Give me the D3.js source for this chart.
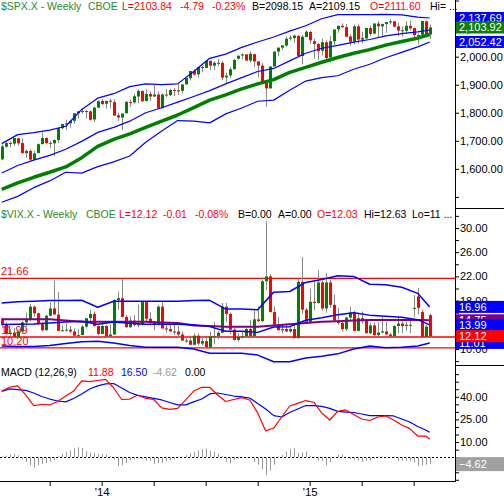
<!DOCTYPE html>
<html>
<head>
<meta charset="utf-8">
<script src="https://cdn.jsdelivr.net/npm/d3@7"></script>
<style>
  body { margin: 0; background: #fff; }
  svg text { font-family: "Liberation Sans", Arial, sans-serif; font-size: 11px; }
  svg text.title { font-size: 10.5px; }
</style>
</head>
<body>
<div id="chart"></div>
<script>
/* ============================================================
   Data (weekly, Jul 2013 - Jul 2015)
   ============================================================ */
const weeks = d3.timeFriday.range(new Date(2013, 6, 12), new Date(2015, 7, 1));

const spxOpen = [1634,1679,1692,1690,1709,1692,1656,1664,1633,1656,1688,1710,1692,1691,1703,1745,1760,1762,1771,1798,
  1804,1806,1805,1776,1818,1842,1832,1843,1838,1791,1783,1798,1838,1837,1858,1878,1842,1867,1858,1865,
  1816,1865,1863,1881,1880,1878,1901,1923,1949,1937,1963,1960,1985,1968,1978,1978,1926,1933,1955,1993,
  2004,2008,1986,2009,1983,1968,1906,1887,1965,2018,2032,2040,2064,2066,2074,2002,2070,2088,2055,2045,
  2021,2051,1997,2055,2097,2110,2105,2072,2053,2108,2061,2065,2102,2082,2118,2108,2116,2122,2126,2108,
  2092,2092,2110,2102,2072,2078,2126,2079];
const spxHigh = [1687,1698,1697,1710,1709,1709,1669,1670,1664,1691,1730,1712,1700,1704,1745,1760,1775,1771,1799,1806,
  1814,1811,1808,1823,1844,1849,1843,1850,1848,1800,1798,1841,1847,1868,1883,1878,1883,1876,1898,1876,
  1869,1885,1885,1889,1902,1901,1925,1950,1955,1964,1968,1986,1986,1984,1991,1984,1943,1963,1993,2006,
  2012,2008,2019,2009,1984,1977,1906,1965,2018,2034,2041,2071,2076,2079,2077,2077,2094,2093,2064,2049,
  2064,2058,2073,2097,2110,2119,2117,2080,2114,2115,2089,2103,2111,2120,2126,2118,2123,2134,2126,2121,
  2108,2126,2129,2102,2083,2127,2129,2114];
const spxLow = [1631,1675,1677,1682,1684,1655,1640,1628,1633,1656,1688,1687,1674,1646,1692,1741,1740,1747,1761,1779,
  1796,1779,1772,1767,1818,1828,1815,1815,1790,1770,1738,1798,1820,1832,1834,1839,1840,1843,1856,1815,
  1816,1856,1859,1859,1863,1868,1901,1915,1933,1925,1944,1960,1952,1952,1965,1916,1905,1923,1955,1989,
  1990,1985,1979,1964,1926,1906,1821,1886,1965,2001,2025,2034,2057,2049,2002,1972,2070,2045,1992,1988,
  2004,1989,1980,2041,2085,2103,2071,2040,2044,2046,2048,2063,2073,2080,2068,2067,2085,2114,2103,2072,
  2072,2081,2094,2056,2044,2078,2077,2063];
const spxClose = [1680,1692,1692,1710,1691,1656,1664,1633,1655,1688,1710,1692,1691,1703,1745,1760,1762,1771,1798,1805,
  1806,1805,1775,1818,1841,1831,1842,1839,1790,1783,1797,1839,1836,1859,1878,1841,1867,1858,1865,1816,
  1865,1863,1881,1878,1878,1901,1924,1949,1936,1963,1961,1985,1968,1978,1978,1925,1932,1955,1988,2003,
  2008,1986,2010,1983,1968,1906,1887,1965,2018,2032,2040,2064,2068,2075,2002,2071,2089,2058,2045,2019,
  2052,1995,2055,2097,2110,2105,2071,2053,2108,2061,2067,2102,2081,2118,2108,2116,2123,2126,2107,2093,
  2094,2110,2101,2077,2077,2127,2080,2104];

// overlays, read every 4th week
const bandWeeks = [0,4,8,12,16,20,24,28,32,36,40,44,48,52,56,60,64,68,72,76,80,84,88,92,96,100,104,107];
const spxUpper = [1690,1722,1729,1738,1752,1812,1852,1868,1893,1903,1900,1903,1947,1994,2009,2033,2052,2070,2091,2110,2135,2150,2150,2150,2151,2149,2141,2137.69];
const spxMid   = [1585,1612,1631,1648,1670,1698,1730,1748,1770,1800,1818,1838,1858,1879,1903,1925,1947,1958,1985,2012,2030,2040,2052,2061,2074,2082,2088,2095.06];
const spxLower = [1481,1502,1533,1557,1588,1585,1608,1625,1646,1695,1735,1772,1770,1764,1796,1817,1841,1845,1880,1913,1925,1932,1955,1973,1996,2015,2035,2052.42];
const spxMa    = [1527,1550,1570,1588,1607,1640,1680,1705,1725,1748,1770,1792,1818,1845,1864,1885,1903,1918,1944,1962,1980,1997,2012,2025,2041,2054,2066,2079];

const vixOpen = [15.0,14.0,12.5,12.7,12.0,12.9,14.4,14.8,17.0,15.9,14.2,13.1,15.5,16.7,15.7,13.0,13.1,13.2,12.9,12.2,
  12.3,13.7,15.1,15.8,13.8,12.5,13.8,12.1,12.4,18.1,18.4,15.3,13.6,14.7,14.0,14.1,17.8,15.0,14.4,14.0,
  17.0,13.4,13.3,12.9,12.9,12.4,11.4,11.4,10.7,12.2,10.9,11.3,10.3,12.1,12.1,12.7,17.0,15.8,13.2,11.5,
  12.0,12.1,13.3,12.1,14.9,14.6,21.2,22.0,16.1,14.0,13.1,13.3,12.9,13.3,11.8,21.1,16.5,14.5,17.8,17.6,
  21.0,16.7,21.0,17.3,14.7,14.3,13.3,15.2,16.0,13.0,15.1,14.7,12.6,13.9,12.3,12.7,12.9,12.4,12.1,13.8,
  14.2,13.8,14.0,16.8,18.7,16.1,12.0,15.6];
const vixHigh = [15.2,14.4,13.3,13.5,13.2,14.6,16.0,17.4,17.2,16.0,14.5,15.6,17.7,21.3,19.4,13.9,14.2,13.8,13.4,13.3,
  14.0,15.1,16.5,16.2,13.9,14.5,14.0,14.0,18.2,19.5,21.5,15.6,15.4,15.6,17.3,17.9,17.9,16.1,14.6,17.3,
  17.9,14.1,14.5,14.0,13.8,12.9,12.0,12.2,12.6,12.6,12.2,11.8,12.9,14.5,13.0,17.6,17.6,16.0,13.5,12.6,
  13.0,13.6,14.8,16.3,17.0,21.8,31.1,22.4,17.0,15.3,14.0,14.3,13.6,14.3,21.5,25.2,16.8,20.0,21.1,23.0,
  21.3,22.6,21.5,19.0,16.8,14.7,15.3,17.0,16.3,16.0,16.2,15.0,14.3,14.4,14.4,15.3,14.5,12.7,13.9,15.3,
  15.0,14.5,14.6,18.9,20.1,16.5,14.0,15.9];
const vixLow = [13.8,12.3,12.2,11.9,11.8,12.5,13.7,14.6,15.3,13.9,12.9,13.1,15.4,15.6,13.0,12.9,12.9,12.6,12.2,12.2,
  12.3,13.4,14.4,13.7,12.3,12.5,12.1,11.9,12.3,16.5,15.2,13.5,13.5,13.7,13.6,13.9,14.5,13.9,13.1,13.9,
  13.4,12.7,12.9,12.3,11.9,11.4,11.0,10.7,10.6,10.6,10.6,10.3,10.3,10.8,11.6,12.6,14.5,12.4,11.4,11.2,
  11.7,11.9,11.9,12.0,14.5,14.5,19.7,16.1,13.9,13.1,12.6,12.8,12.6,11.8,11.7,15.8,14.3,14.3,16.4,17.5,
  16.3,16.0,16.8,14.6,14.0,12.9,13.0,14.6,13.0,12.9,14.2,12.6,12.5,12.2,12.0,12.6,12.3,11.8,12.0,12.6,
  12.6,13.0,12.6,15.3,15.7,11.8,11.9,12.0];
const vixClose = [14.0,12.5,12.7,12.0,12.9,14.4,14.8,17.0,15.9,14.2,13.1,15.5,16.7,15.7,13.0,13.1,13.2,12.9,12.2,12.3,
  13.7,15.1,15.8,13.8,12.5,13.8,12.1,12.4,18.1,18.4,15.3,13.6,14.7,14.0,14.1,17.8,15.0,14.4,14.0,17.0,
  13.4,13.3,12.9,12.9,12.4,11.4,11.4,10.7,12.2,10.9,11.3,10.3,12.1,12.1,12.7,17.0,15.8,13.2,11.5,12.0,
  12.1,13.3,12.1,14.9,14.6,21.2,22.0,16.1,14.0,13.1,13.3,12.9,13.3,11.8,21.1,16.5,14.5,17.8,17.6,21.0,
  16.7,21.0,17.3,14.7,14.3,13.3,15.2,16.0,13.0,15.1,14.7,12.6,13.9,12.3,12.7,12.9,12.4,12.1,13.8,14.2,
  13.8,14.0,14.0,16.8,16.8,12.0,13.7,12.1];

const vixUpper = [17.6,17.8,17.9,18.0,18.0,18.05,16.9,17.9,17.9,17.9,17.9,17.9,18.0,18.05,16.6,16.6,16.5,19.4,19.5,21.0,21.5,22.1,22.0,20.7,20.6,20.2,19.2,16.96];
const vixMid   = [14.05,14.1,14.15,14.3,14.45,14.6,14.1,14.45,14.25,14.1,14.1,14.1,14.0,13.7,12.95,12.95,12.75,13.65,13.7,14.75,15.15,15.65,16.0,15.6,15.4,15.25,14.85,13.99];
const vixLower = [10.5,10.4,10.4,10.6,10.9,11.2,11.3,11.0,10.6,10.3,10.3,10.3,10.0,9.3,9.3,9.3,9.0,7.9,7.9,8.5,8.8,9.2,10.0,10.5,10.2,10.3,10.5,11.01];
const vixMa    = [14.9,14.9,14.9,14.9,14.7,14.5,14.5,14.5,14.5,14.5,14.4,14.3,13.9,13.8,13.7,13.7,13.7,13.9,14.1,14.3,14.5,14.6,14.7,14.8,14.8,14.8,14.8,14.75];
const vixLevels = [{ value: 21.66, label: '21.66' }, { value: 11.99, label: '11.99' }, { value: 10.20, label: '10.20' }];

// MACD (12,26,9), read every 2nd week
const macdWeeks = [0,2,4,6,8,10,12,14,16,18,20,22,24,26,28,30,32,34,36,38,40,42,44,46,48,50,52,54,
  56,58,60,62,64,66,68,70,72,74,76,78,80,82,84,86,88,90,92,94,96,98,100,102,104,106,107];
const macdLine = [43.8,46.5,47.2,41.2,34.2,34.9,34.6,36.9,40.5,43.8,50.5,50.1,50.8,51.5,45.8,38.2,38.5,41.2,38.9,38.2,32.6,31.6,32.3,37.9,43.8,46.3,46.3,41.2,
  36.9,38.2,39.4,37.9,29.3,17.4,19.3,26.6,33.9,35.6,37.5,36.4,29.3,24.6,30.3,31.3,28.3,25.3,24.3,26.6,27.3,24.6,21.3,18.9,14.0,14.0,11.88];
const signalLine = [43.5,45.2,44.8,44.2,42.5,40.2,38.5,37.2,36.6,38.9,41.9,45.2,47.2,48.5,48.8,45.8,42.8,40.9,39.9,38.9,37.9,36.2,34.6,34.6,36.6,38.5,41.9,42.5,
  41.5,40.5,39.9,39.2,35.6,31.9,27.5,26.6,29.6,31.9,34.2,34.2,33.6,32.3,30.3,29.9,29.6,28.6,27.5,27.5,27.5,27.3,25.3,23.3,20.3,18.0,16.5];
const macdHist = [0.5,1.0,1.8,2.3,1.2,-1.5,-3.3,-5.5,-7.0,-5.5,-4.5,-3.8,-3.0,-2.0,0.5,2.2,3.5,4.4,5.7,6.6,
  6.2,4.0,2.9,2.9,2.2,2.2,1.8,0.7,-1.5,-6.0,-5.3,-3.8,-2.2,-1.5,-0.5,-1.5,-2.2,-2.6,-4.4,-3.8,
  -3.8,-2.6,-2.2,-1.5,-0.5,0.5,1.3,2.6,3.5,4.4,5.1,5.7,4.4,3.5,2.2,0.7,-3.1,-4.0,-1.8,-0.9,
  -0.7,-0.4,0.3,-3.0,-5.0,-8.0,-12.0,-9.0,-5.0,0.5,1.5,3.5,5.3,6.0,2.6,3.3,3.8,0.9,-0.5,-2.2,
  -2.6,-5.5,-3.3,-0.3,1.5,1.8,0.2,-1.5,-1.5,-2.2,-3.0,-2.2,-2.2,-1.0,0.4,0.5,0.2,-0.3,-0.8,-2.5,
  -2.2,-2.6,-2.6,-3.5,-6.0,-5.5,-5.0,-4.62];

// header texts
const spxTitle = [['$SPX.X - Weekly', '#2b8a2b'], ['CBOE', '#2b8a2b'], ['L=2103.84', '#ff0000'], ['-4.79', '#ff0000'],
  ['-0.23%', '#ff0000'], ['B=2098.15', '#000'], ['A=2109.15', '#000'], ['O=2111.60', '#ff0000'], ['Hi= ...', '#000']];
const vixTitle = [['$VIX.X - Weekly', '#2b8a2b'], ['CBOE', '#2b8a2b'], ['L=12.12', '#ff0000'], ['-0.01', '#ff0000'],
  ['-0.08%', '#ff0000'], ['B=0.00', '#000'], ['A=0.00', '#000'], ['O=12.03', '#ff0000'], ['Hi=12.63', '#000'], ['Lo=11 ...', '#000']];
const macdTitle = [['MACD (12,26,9)', '#000'], ['11.88', '#ff0000'], ['16.50', '#0000ff'], ['-4.62', '#999'], ['0.00', '#000']];
const spxBoxes = [{ value: 2137.69, color: '#0000ff' }, { value: 2052.42, color: '#0000ff' }, { value: 2103.92, color: '#0a7d0a' }];
const vixBoxes = [{ value: 14.75, color: '#800080' }, { value: 11.01, color: '#0000ff' }, { value: 16.96, color: '#0000ff' },
  { value: 13.99, color: '#0000ff' }, { value: 12.12, color: '#ff0000' }];
const macdBoxes = [{ value: -4.62, color: '#a0a0a0' }];
const yearLabels = { 25: "'14", 77: "'15" };

/* ============================================================
   Chart
   ============================================================ */
const plotW = 455;
const svg = d3.select('#chart').append('svg').attr('width', 504).attr('height', 500);

const x = d3.scalePoint().domain(d3.range(weeks.length)).range([1.7, 429.7]);
const ySpx = d3.scaleLinear().domain([1460.5, 2201.9]).range([208, 0]);
const yVix = d3.scaleLinear().domain([7.36, 33.3]).range([365, 208]);
const yMacd = d3.scaleLinear().domain([-15.8, 61.06]).range([481, 365]);

const defs = svg.append('defs');
[['p1', 0, 208], ['p2', 208, 157], ['p3', 365, 116]].forEach(([id, y0, h]) => {
    defs.append('clipPath').attr('id', id).append('rect').attr('x', 0).attr('y', y0).attr('width', plotW).attr('height', h);
});
const g1 = svg.append('g').attr('clip-path', 'url(#p1)');
const g2 = svg.append('g').attr('clip-path', 'url(#p2)');
const g3 = svg.append('g').attr('clip-path', 'url(#p3)');

function drawCandles(g, y, O, H, L, C) {
    O.forEach((o, i) => {
        const px = Math.round(x(i));
        g.append('line').attr('x1', px + 0.5).attr('x2', px + 0.5).attr('y1', y(H[i])).attr('y2', y(L[i]))
            .attr('stroke', '#888').attr('stroke-width', 1);
        const top = y(Math.max(o, C[i])), bot = y(Math.min(o, C[i]));
        g.append('rect').attr('x', px - 1).attr('y', top).attr('width', 3).attr('height', Math.max(1, bot - top))
            .attr('fill', C[i] >= o ? '#008000' : '#ff0000');
    });
}

function drawLine(g, y, idx, vals, color, width) {
    const line = d3.line().x(d => x(d[0])).y(d => y(d[1]));
    g.append('path').attr('d', line(d3.zip(idx, vals))).attr('fill', 'none')
        .attr('stroke', color).attr('stroke-width', width).attr('stroke-linejoin', 'round');
}

function drawTitle(items, xs, yBase) {
    items.forEach(([t, c], i) => {
        svg.append('text').attr('class', 'title').attr('x', xs[i]).attr('y', yBase).attr('fill', c).text(t);
    });
}

// Price panel
drawCandles(g1, ySpx, spxOpen, spxHigh, spxLow, spxClose);
drawLine(g1, ySpx, bandWeeks, spxMa, '#008000', 3.5);
drawLine(g1, ySpx, bandWeeks, spxUpper, '#0000ff', 1.2);
drawLine(g1, ySpx, bandWeeks, spxMid, '#0000ff', 1.2);
drawLine(g1, ySpx, bandWeeks, spxLower, '#0000ff', 1.2);

// VIX panel
vixLevels.forEach(l => {
    g2.append('line').attr('x1', 0).attr('x2', plotW).attr('y1', yVix(l.value)).attr('y2', yVix(l.value))
        .attr('stroke', '#ff0000').attr('stroke-width', 1.3);
    g2.append('text').attr('x', 1).attr('y', yVix(l.value) - 3).attr('fill', '#ff0000').text(l.label);
});
drawCandles(g2, yVix, vixOpen, vixHigh, vixLow, vixClose);
drawLine(g2, yVix, bandWeeks, vixMa, '#800080', 2);
drawLine(g2, yVix, bandWeeks, vixUpper, '#0000ff', 1.5);
drawLine(g2, yVix, bandWeeks, vixMid, '#0000ff', 1.5);
drawLine(g2, yVix, bandWeeks, vixLower, '#0000ff', 1.5);

// MACD panel
macdHist.forEach((h, i) => {
    const px = Math.round(x(i)) + 0.5;
    g3.append('line').attr('x1', px).attr('x2', px).attr('y1', yMacd(0)).attr('y2', yMacd(h))
        .attr('stroke', '#999').attr('stroke-width', 1);
});
g3.append('line').attr('x1', 0).attr('x2', plotW).attr('y1', Math.round(yMacd(0)) + 0.5).attr('y2', Math.round(yMacd(0)) + 0.5)
    .attr('stroke', '#000').attr('stroke-dasharray', '2,2');
drawLine(g3, yMacd, macdWeeks, signalLine, '#0000ff', 1.2);
drawLine(g3, yMacd, macdWeeks, macdLine, '#ff0000', 1.2);

// Titles
drawTitle(spxTitle, [1, 88, 122, 180, 212, 252, 309, 370, 430], 10);
drawTitle(vixTitle, [1, 86, 119, 163, 195, 238, 278, 317, 364, 412], 218);
drawTitle(macdTitle, [1, 88, 121, 153, 185], 376);

// Right axes
function rightAxis(y, ticks, labelled) {
    const ax = d3.axisRight(y).tickValues(ticks).tickSize(4).tickPadding(1)
        .tickFormat(d => labelled(d) ? d3.format(',.2f')(d) : '');
    const g = svg.append('g').attr('transform', `translate(${plotW},0)`).call(ax);
    g.select('.domain').remove();
    g.selectAll('text').attr('fill', '#000').style('font-size', '11px')
        .style('font-family', '"Liberation Sans", Arial, sans-serif');
    g.selectAll('line').attr('stroke', '#000');
}
rightAxis(ySpx, d3.range(1500, 2201, 100), d => d >= 1600 && d <= 2100);
rightAxis(yVix, d3.range(8, 33, 2), d => (d - 10) % 4 === 0);
rightAxis(yMacd, d3.range(-15, 60, 5), d => d === 10 || d === 25 || d === 40);

function valueBoxes(y, boxes, fmt, h) {
    boxes.forEach(b => {
        const cy = y(b.value);
        svg.append('rect').attr('x', plotW + 0.5).attr('y', cy - h / 2).attr('width', 504 - plotW).attr('height', h).attr('fill', b.color);
        svg.append('text').attr('x', plotW + 4).attr('y', cy + 4).attr('fill', '#fff').text(fmt(b.value));
    });
}
valueBoxes(ySpx, spxBoxes, d3.format(',.2f'), 12);
valueBoxes(yVix, vixBoxes, d3.format('.2f'), 12);
valueBoxes(yMacd, macdBoxes, d3.format('.2f'), 14);

// Frame
svg.append('line').attr('x1', plotW + 0.5).attr('x2', plotW + 0.5).attr('y1', 0).attr('y2', 481).attr('stroke', '#000');
[208, 365].forEach(yy => svg.append('line').attr('x1', plotW).attr('x2', 504).attr('y1', yy + 0.5).attr('y2', yy + 0.5).attr('stroke', '#000'));

// Bottom axis
const xAxis = d3.axisBottom(x).tickValues([12, 25, 38, 51, 64, 77, 90, 103]).tickSize(5).tickPadding(2)
    .tickFormat(i => yearLabels[i] || '');
const gx = svg.append('g').attr('transform', 'translate(0,481)').call(xAxis);
gx.select('.domain').remove();
gx.selectAll('text').attr('fill', '#000').style('font-size', '11.5px').style('font-family', '"Liberation Sans", Arial, sans-serif');
gx.selectAll('line').attr('stroke', '#000');
svg.append('line').attr('x1', 0).attr('x2', plotW + 1).attr('y1', 481.5).attr('y2', 481.5).attr('stroke', '#000');
</script>
</body>
</html>
